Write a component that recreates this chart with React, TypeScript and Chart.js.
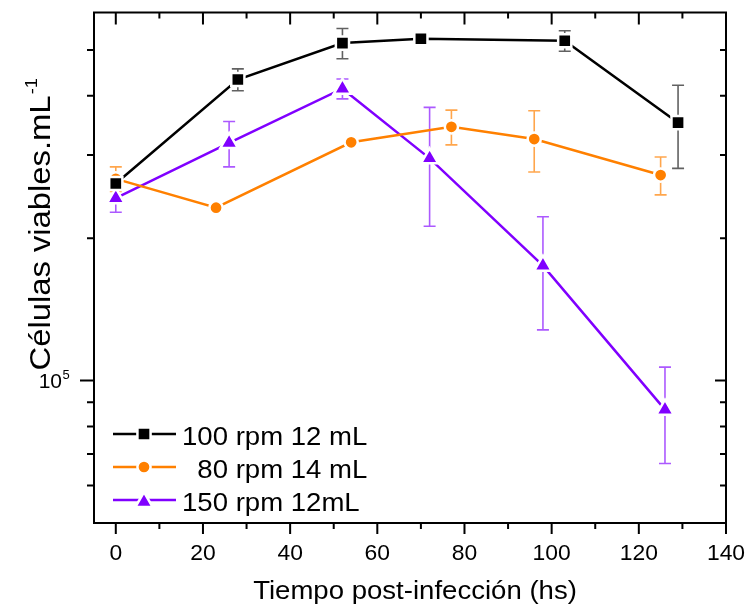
import React, { useEffect, useRef } from 'react';
import { Chart, registerables } from 'chart.js';

Chart.register(...registerables);

// ---- data ----
const seriesLabels = ['100 rpm 12 mL', '  80 rpm 14 mL', '150 rpm 12mL'];
const seriesColors = ['#000000', '#FF8000', '#8000FF'];
const errorColors = ['rgba(0,0,0,0.62)', 'rgba(255,128,0,0.7)', 'rgba(128,0,255,0.65)'];
const seriesMarkers = ['rect', 'circle', 'triangle'];

const xBlack = [0, 28, 52, 70, 103, 129];
const yBlack = [2.61e5, 4.33e5, 5.17e5, 5.28e5, 5.23e5, 3.51e5];
const eBlack = [0.08e5, 0.23e5, 0.38e5, 0.04e5, 0.26e5, 0.7e5];

const xOrange = [0, 23, 54, 77, 96, 125];
const yOrange = [2.67e5, 2.32e5, 3.19e5, 3.44e5, 3.24e5, 2.72e5];
const eOrange = [0.16e5, 0.04e5, 0, 0.29e5, 0.48e5, 0.25e5];

const xPurple = [0, 26, 52, 72, 98, 126];
const yPurple = [2.43e5, 3.18e5, 4.14e5, 2.95e5, 1.75e5, 0.868e5];
const ePurple = [0.16e5, 0.35e5, 0.2e5, 0.83e5, 0.47e5, 0.2e5];

const xMajorTicks = [0, 20, 40, 60, 80, 100, 120, 140];
const xMinorTicks = [10, 30, 50, 70, 90, 110, 130];
const xTickLabels = ['0', '20', '40', '60', '80', '100', '120', '140'];
const yMajorTicks = [1e5];
const yMinorTicks = [6e4, 7e4, 8e4, 9e4, 2e5, 3e5, 4e5, 5e5];
const yTickLabelBase = '10';
const yTickLabelExp = '5';

const xTitle = 'Tiempo post-infección (hs)';
const yTitle = 'Células viables.mL';
const yTitleSup = '-1';

const X_MIN = -5;
const X_MAX = 140;
const Y_MIN = 5e4;
const Y_MAX = 6e5;

const errorSets = [eBlack, eOrange, ePurple];
const markerRadii = [9.3, 6.6, 10];

const FONT = '"Liberation Sans", Arial, Helvetica, sans-serif';
const TEXT = '#000';

function drawText(
  ctx: CanvasRenderingContext2D,
  text: string,
  x: number,
  y: number,
  size: number,
  align: CanvasTextAlign,
  sx = 1,
  rot = 0
) {
  ctx.save();
  ctx.translate(x, y);
  if (rot) ctx.rotate(rot);
  ctx.scale(sx, 1);
  ctx.font = `${size}px ${FONT}`;
  ctx.textAlign = align;
  ctx.textBaseline = 'alphabetic';
  ctx.fillStyle = TEXT;
  ctx.fillText(text, 0, 0);
  ctx.restore();
}

function markerPath(ctx: CanvasRenderingContext2D, style: string, x: number, y: number, r: number) {
  ctx.beginPath();
  if (style === 'rect') {
    const h = r * Math.SQRT1_2;
    ctx.rect(x - h, y - h, 2 * h, 2 * h);
  } else if (style === 'circle') {
    ctx.arc(x, y, r, 0, Math.PI * 2);
  } else {
    let rad = 0;
    ctx.moveTo(x + Math.sin(rad) * r, y - Math.cos(rad) * r);
    rad += (2 * Math.PI) / 3;
    ctx.lineTo(x + Math.sin(rad) * r, y - Math.cos(rad) * r);
    rad += (2 * Math.PI) / 3;
    ctx.lineTo(x + Math.sin(rad) * r, y - Math.cos(rad) * r);
    ctx.closePath();
  }
}

const errorBarPlugin = {
  id: 'errorBars',
  beforeDatasetsDraw(chart: any) {
    const { ctx } = chart;
    const xs = chart.scales.x;
    const ys = chart.scales.y;
    chart.data.datasets.forEach((ds: any, i: number) => {
      const errs = errorSets[i];
      ctx.save();
      ctx.strokeStyle = errorColors[i];
      ctx.lineWidth = 1.6;
      ds.data.forEach((pt: any, j: number) => {
        const e = errs[j];
        if (!e) return;
        const px = xs.getPixelForValue(pt.x);
        const top = ys.getPixelForValue(pt.y + e);
        const bot = ys.getPixelForValue(pt.y - e);
        ctx.beginPath();
        ctx.moveTo(px, top);
        ctx.lineTo(px, bot);
        ctx.moveTo(px - 6, top);
        ctx.lineTo(px + 6, top);
        ctx.moveTo(px - 6, bot);
        ctx.lineTo(px + 6, bot);
        ctx.stroke();
      });
      ctx.restore();
    });
  },
};

const framePlugin = {
  id: 'frame',
  afterDraw(chart: any) {
    const { ctx, chartArea } = chart;
    const { left, right, top, bottom } = chartArea;
    const xs = chart.scales.x;
    const ys = chart.scales.y;
    ctx.save();
    ctx.strokeStyle = '#000';
    ctx.lineWidth = 2;
    ctx.strokeRect(left, top, right - left, bottom - top);
    ctx.beginPath();
    xMajorTicks.forEach((v) => {
      const px = xs.getPixelForValue(v);
      ctx.moveTo(px, bottom);
      ctx.lineTo(px, bottom + 11);
      ctx.moveTo(px, top);
      ctx.lineTo(px, top + 12);
    });
    xMinorTicks.forEach((v) => {
      const px = xs.getPixelForValue(v);
      ctx.moveTo(px, bottom);
      ctx.lineTo(px, bottom + 6);
      ctx.moveTo(px, top);
      ctx.lineTo(px, top + 6);
    });
    yMajorTicks.forEach((v) => {
      const py = ys.getPixelForValue(v);
      ctx.moveTo(left - 14, py);
      ctx.lineTo(left, py);
      ctx.moveTo(right, py);
      ctx.lineTo(right - 11, py);
    });
    yMinorTicks.forEach((v) => {
      const py = ys.getPixelForValue(v);
      ctx.moveTo(left - 7, py);
      ctx.lineTo(left, py);
      ctx.moveTo(right, py);
      ctx.lineTo(right - 6, py);
    });
    ctx.stroke();
    ctx.restore();

    // x tick labels
    xMajorTicks.forEach((v, i) => {
      drawText(ctx, xTickLabels[i], xs.getPixelForValue(v), 559.5, 22, 'center', 1.04);
    });
    // y tick label 10^5
    const py5 = ys.getPixelForValue(yMajorTicks[0]);
    drawText(ctx, yTickLabelBase, 62, py5 + 7.5, 21, 'right');
    drawText(ctx, yTickLabelExp, 62.5, py5 - 1.5, 13, 'left');

    // x title
    drawText(ctx, xTitle, (left + right) / 2 + 5, 599, 26, 'center', 1.06);

    // y title (rotated)
    ctx.save();
    ctx.translate(50, 233);
    ctx.rotate(-Math.PI / 2);
    ctx.scale(1.13, 1);
    ctx.font = `29px ${FONT}`;
    ctx.fillStyle = TEXT;
    ctx.textAlign = 'center';
    ctx.textBaseline = 'alphabetic';
    ctx.fillText(yTitle, 0, 0);
    const w = ctx.measureText(yTitle).width;
    ctx.font = `16px ${FONT}`;
    ctx.textAlign = 'left';
    ctx.fillText(yTitleSup, w / 2 + 1, -13);
    ctx.restore();

    // legend
    seriesLabels.forEach((lab, i) => {
      const cy = 434 + i * 33;
      ctx.save();
      ctx.strokeStyle = seriesColors[i];
      ctx.lineWidth = 2.5;
      ctx.beginPath();
      ctx.moveTo(113, cy);
      ctx.lineTo(176, cy);
      ctx.stroke();
      markerPath(ctx, seriesMarkers[i], 144, cy + (seriesMarkers[i] === 'triangle' ? 2 : 0), markerRadii[i]);
      ctx.fillStyle = seriesColors[i];
      ctx.fill();
      ctx.strokeStyle = '#fff';
      ctx.lineWidth = 2.5;
      ctx.stroke();
      ctx.restore();
      drawText(ctx, lab, 182, cy + 10.5, 26, 'left', 1.06);
    });
  },
};

function pts(xs: number[], ys: number[]) {
  return xs.map((x, i) => ({ x, y: ys[i] }));
}

export default function App() {
  const ref = useRef<HTMLCanvasElement>(null);
  useEffect(() => {
    if (!ref.current) return;
    const dataSets = [pts(xBlack, yBlack), pts(xOrange, yOrange), pts(xPurple, yPurple)];
    const chart = new Chart(ref.current, {
      type: 'line',
      data: {
        datasets: dataSets.map((d, i) => ({
          label: seriesLabels[i],
          data: d,
          borderColor: seriesColors[i],
          backgroundColor: seriesColors[i],
          pointBackgroundColor: seriesColors[i],
          pointBorderColor: '#ffffff',
          pointBorderWidth: 2.5,
          pointStyle: seriesMarkers[i] as any,
          pointRadius: markerRadii[i],
          pointHoverRadius: markerRadii[i],
          borderWidth: 2.5,
          tension: 0,
          fill: false,
        })),
      },
      options: {
        animation: false,
        responsive: false,
        devicePixelRatio: 1,
        events: [],
        layout: { padding: { left: 94, top: 11, right: 21, bottom: 85 } },
        scales: {
          x: { type: 'linear', min: X_MIN, max: X_MAX, display: false },
          y: { type: 'logarithmic', min: Y_MIN, max: Y_MAX, display: false },
        },
        plugins: {
          legend: { display: false },
          tooltip: { enabled: false },
        },
      },
      plugins: [errorBarPlugin, framePlugin],
    });
    return () => chart.destroy();
  }, []);
  return (
    <div style={{ position: 'fixed', left: 0, top: 0, width: 747, height: 608, background: '#fff' }}>
      <canvas ref={ref} width={747} height={608} style={{ display: 'block', width: 747, height: 608 }} />
    </div>
  );
}
